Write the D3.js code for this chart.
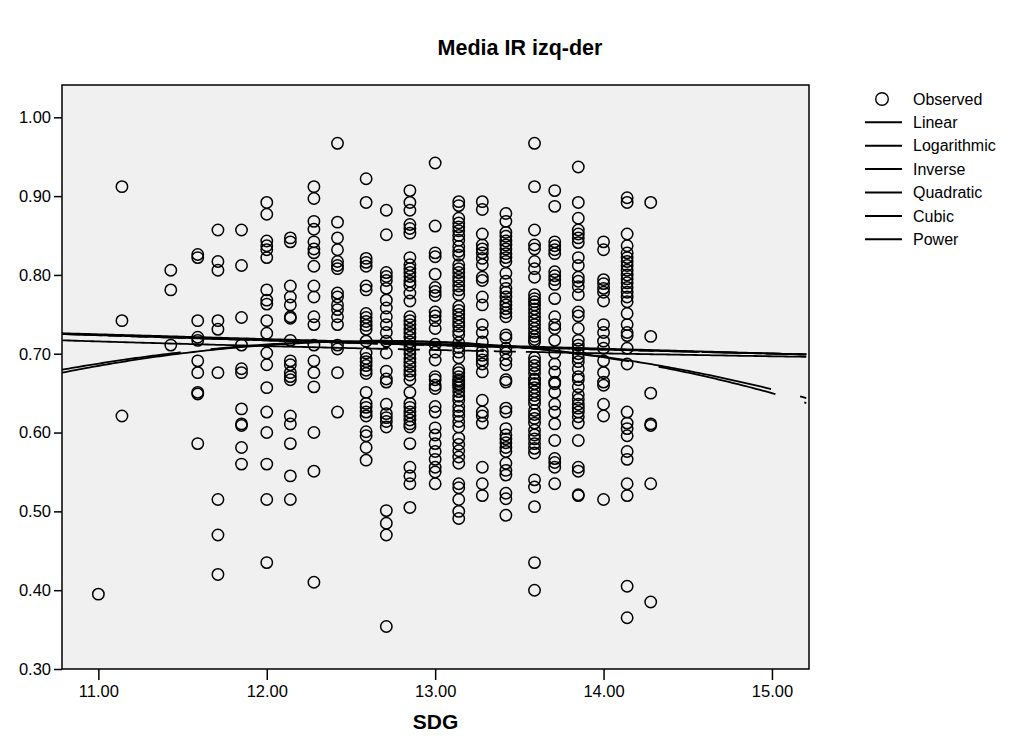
<!DOCTYPE html>
<html><head><meta charset="utf-8">
<script src="https://cdn.jsdelivr.net/npm/d3@7"></script>
<style>body{margin:0;background:#fff}svg{display:block}text{font-family:"Liberation Sans",Arial,sans-serif;fill:#000}</style>
</head><body>
<svg id="chart" width="1015" height="736"></svg>
<script>
// ---- Data (SDG value -> observed "Media IR izq-der" values) ----
const sdgColumns = [11.00, 11.14, 11.43, 11.59, 11.71, 11.85, 12.00, 12.14, 12.28, 12.42, 12.59, 12.71, 12.85, 13.00, 13.14, 13.28, 13.42, 13.59, 13.71, 13.85, 14.00, 14.14, 14.28];
const c1100 = [0.395];
const c1114 = [0.912, 0.742, 0.621];
const c1143 = [0.806, 0.781, 0.711];
const c1159 = [0.826, 0.822, 0.742, 0.721, 0.717, 0.691, 0.676, 0.651, 0.649, 0.586];
const c1171 = [0.857, 0.817, 0.806, 0.742, 0.731, 0.676, 0.515, 0.470, 0.420];
const c1185 = [0.857, 0.812, 0.746, 0.711, 0.681, 0.676, 0.630, 0.611, 0.609, 0.581, 0.560];
const c1200 = [0.892, 0.877, 0.843, 0.837, 0.832, 0.822, 0.781, 0.768, 0.763, 0.742, 0.726, 0.701, 0.686, 0.657, 0.626, 0.600, 0.560, 0.515, 0.435];
const c1214 = [0.847, 0.842, 0.786, 0.772, 0.762, 0.747, 0.745, 0.717, 0.691, 0.686, 0.676, 0.671, 0.667, 0.621, 0.611, 0.586, 0.545, 0.515];
const c1228 = [0.912, 0.897, 0.868, 0.858, 0.842, 0.833, 0.828, 0.811, 0.786, 0.772, 0.747, 0.737, 0.711, 0.691, 0.676, 0.658, 0.600, 0.551, 0.410];
const c1242 = [0.967, 0.867, 0.847, 0.832, 0.817, 0.812, 0.808, 0.777, 0.772, 0.762, 0.756, 0.747, 0.737, 0.711, 0.706, 0.676, 0.626];
const c1259 = [0.922, 0.892, 0.821, 0.816, 0.811, 0.786, 0.781, 0.751, 0.746, 0.741, 0.736, 0.731, 0.716, 0.701, 0.694, 0.690, 0.685, 0.679, 0.675, 0.651, 0.637, 0.632, 0.626, 0.621, 0.601, 0.596, 0.581, 0.565];
const c1271 = [0.882, 0.851, 0.803, 0.798, 0.793, 0.783, 0.768, 0.758, 0.747, 0.737, 0.727, 0.716, 0.701, 0.678, 0.668, 0.664, 0.636, 0.624, 0.619, 0.614, 0.607, 0.501, 0.485, 0.470, 0.354];
const c1285 = [0.907, 0.892, 0.882, 0.864, 0.859, 0.853, 0.822, 0.813, 0.808, 0.803, 0.798, 0.792, 0.787, 0.777, 0.767, 0.747, 0.742, 0.737, 0.731, 0.726, 0.721, 0.715, 0.710, 0.705, 0.700, 0.694, 0.689, 0.684, 0.678, 0.673, 0.667, 0.651, 0.637, 0.632, 0.626, 0.621, 0.616, 0.611, 0.607, 0.586, 0.556, 0.545, 0.535, 0.505];
const c1300 = [0.942, 0.862, 0.828, 0.823, 0.801, 0.784, 0.779, 0.774, 0.753, 0.748, 0.742, 0.732, 0.712, 0.702, 0.692, 0.671, 0.660, 0.667, 0.656, 0.633, 0.626, 0.606, 0.597, 0.586, 0.576, 0.566, 0.556, 0.550, 0.535];
const c1314 = [0.893, 0.888, 0.872, 0.866, 0.861, 0.856, 0.850, 0.844, 0.836, 0.830, 0.825, 0.813, 0.808, 0.803, 0.797, 0.792, 0.786, 0.781, 0.775, 0.760, 0.755, 0.750, 0.745, 0.740, 0.735, 0.729, 0.724, 0.714, 0.708, 0.702, 0.695, 0.680, 0.676, 0.671, 0.665, 0.660, 0.667, 0.662, 0.657, 0.652, 0.646, 0.641, 0.633, 0.627, 0.621, 0.614, 0.607, 0.593, 0.585, 0.577, 0.569, 0.561, 0.535, 0.530, 0.515, 0.500, 0.491];
const c1328 = [0.893, 0.883, 0.852, 0.838, 0.833, 0.828, 0.821, 0.813, 0.797, 0.793, 0.772, 0.762, 0.737, 0.727, 0.715, 0.703, 0.698, 0.692, 0.687, 0.677, 0.641, 0.626, 0.621, 0.612, 0.556, 0.535, 0.520];
const c1342 = [0.878, 0.868, 0.854, 0.849, 0.843, 0.838, 0.833, 0.827, 0.822, 0.817, 0.802, 0.792, 0.783, 0.778, 0.772, 0.766, 0.762, 0.757, 0.752, 0.747, 0.724, 0.720, 0.707, 0.701, 0.692, 0.686, 0.667, 0.664, 0.631, 0.626, 0.605, 0.597, 0.592, 0.587, 0.581, 0.576, 0.561, 0.552, 0.546, 0.523, 0.516, 0.495];
const c1359 = [0.967, 0.912, 0.857, 0.838, 0.833, 0.817, 0.808, 0.797, 0.775, 0.770, 0.766, 0.762, 0.757, 0.752, 0.747, 0.742, 0.737, 0.732, 0.727, 0.722, 0.718, 0.715, 0.695, 0.690, 0.685, 0.680, 0.675, 0.668, 0.662, 0.667, 0.662, 0.657, 0.652, 0.647, 0.642, 0.637, 0.628, 0.623, 0.618, 0.612, 0.603, 0.597, 0.592, 0.586, 0.580, 0.574, 0.540, 0.531, 0.506, 0.435, 0.400];
const c1371 = [0.907, 0.887, 0.842, 0.837, 0.832, 0.827, 0.804, 0.799, 0.794, 0.788, 0.770, 0.747, 0.737, 0.732, 0.717, 0.701, 0.687, 0.677, 0.664, 0.662, 0.651, 0.636, 0.626, 0.611, 0.590, 0.567, 0.562, 0.556, 0.535];
const c1385 = [0.937, 0.892, 0.872, 0.857, 0.852, 0.847, 0.841, 0.822, 0.812, 0.797, 0.792, 0.785, 0.775, 0.753, 0.748, 0.732, 0.717, 0.711, 0.706, 0.700, 0.695, 0.690, 0.681, 0.671, 0.667, 0.658, 0.648, 0.642, 0.636, 0.631, 0.626, 0.620, 0.612, 0.590, 0.556, 0.551, 0.520, 0.521];
const c1400 = [0.842, 0.832, 0.794, 0.789, 0.783, 0.778, 0.767, 0.737, 0.727, 0.716, 0.707, 0.691, 0.676, 0.664, 0.660, 0.636, 0.621, 0.515];
const c1414 = [0.898, 0.892, 0.852, 0.837, 0.828, 0.822, 0.817, 0.812, 0.806, 0.800, 0.795, 0.790, 0.784, 0.778, 0.772, 0.766, 0.751, 0.737, 0.727, 0.723, 0.707, 0.687, 0.626, 0.612, 0.605, 0.596, 0.576, 0.566, 0.535, 0.520, 0.405, 0.365];
const c1428 = [0.892, 0.722, 0.650, 0.611, 0.609, 0.535, 0.385];
const columnValues = [c1100, c1114, c1143, c1159, c1171, c1185, c1200, c1214, c1228, c1242, c1259, c1271, c1285, c1300, c1314, c1328, c1342, c1359, c1371, c1385, c1400, c1414, c1428];

const xTicks = [11, 12, 13, 14, 15];
const yTicks = [0.30, 0.40, 0.50, 0.60, 0.70, 0.80, 0.90, 1.00];
const legendLabels = ["Linear", "Logarithmic", "Inverse", "Quadratic", "Cubic", "Power"];

// fitted model coefficients
const linearCoef = [0.7917, -0.00609];          // a + b x
const logCoef = [0.9043, -0.0754];              // a + b ln x
const inverseCoef = [0.645, 0.777];             // a + b / x
const quadCoef = [0.716, 0.01125, 12.67];       // top - k (x-h)^2
const cubicCoef = [0.7165, 0.0112, 12.66, -0.0004]; // top - k (x-h)^2 + m (x-h)^3
const powerCoef = [0.933, -0.106];              // a x^b

// ---- Drawing ----
const svg = d3.select("#chart");
const L = 62, R = 809, T = 85, B = 669;
const x = d3.scaleLinear().domain([10.784, 15.22]).range([L, R]);
const y = d3.scaleLinear().domain([0.3, 1.041]).range([B, T]);

svg.append("text").attr("x", 520).attr("y", 55).attr("text-anchor", "middle")
  .style("font-weight", "bold").style("font-size", "21.5px").text("Media IR izq-der");

svg.append("rect").attr("x", L).attr("y", T).attr("width", R - L).attr("height", B - T)
  .attr("fill", "#f0f0f0");

svg.append("clipPath").attr("id", "clip").append("rect")
  .attr("x", L).attr("y", T).attr("width", R - L).attr("height", B - T);

const pts = [];
sdgColumns.forEach((s, i) => columnValues[i].forEach(v => pts.push([s, v])));
svg.append("g").selectAll("circle").data(pts).join("circle")
  .attr("cx", d => x(d[0])).attr("cy", d => y(d[1])).attr("r", 5.7)
  .attr("fill", "none").attr("stroke", "#000").attr("stroke-width", 1.5);

const models = [
  {f: s => linearCoef[0] + linearCoef[1] * s, dash: null},
  {f: s => logCoef[0] + logCoef[1] * Math.log(s), dash: "60,4"},
  {f: s => inverseCoef[0] + inverseCoef[1] / s, dash: "300,4,22,10,22,10,22,10,22,10,22,10"},
  {f: s => quadCoef[0] - quadCoef[1] * (s - quadCoef[2]) ** 2, dash: "715,30,200"},
  {f: s => cubicCoef[0] - cubicCoef[1] * (s - cubicCoef[2]) ** 2 + cubicCoef[3] * (s - cubicCoef[2]) ** 3, dash: "120,30"},
  {f: s => powerCoef[0] * Math.pow(s, powerCoef[1]), dash: "40,6"}
];
const xs = d3.range(10.784, 15.2201, 0.02);
const line = d3.line().x(d => x(d[0])).y(d => y(d[1]));
const lg = svg.append("g").attr("clip-path", "url(#clip)");
models.forEach(m => {
  lg.append("path").attr("d", line(xs.map(s => [s, m.f(s)])))
    .attr("fill", "none").attr("stroke", "#000").attr("stroke-width", 1.8)
    .attr("stroke-dasharray", m.dash);
});

svg.append("rect").attr("x", L).attr("y", T).attr("width", R - L).attr("height", B - T)
  .attr("fill", "none").attr("stroke", "#000").attr("stroke-width", 1.5);

const yAxis = svg.append("g").attr("transform", `translate(${L},0)`)
  .call(d3.axisLeft(y).tickValues(yTicks).tickFormat(d3.format(".2f")).tickSize(8).tickPadding(3));
const xAxis = svg.append("g").attr("transform", `translate(0,${B})`)
  .call(d3.axisBottom(x).tickValues(xTicks).tickFormat(d3.format(".2f")).tickSize(11).tickPadding(5));
[yAxis, xAxis].forEach(a => {
  a.select(".domain").remove();
  a.selectAll("line").attr("stroke", "#000").attr("stroke-width", 1.5);
  a.selectAll("text").style("font-size", "16.5px").attr("fill", "#000");
});

svg.append("text").attr("x", (L + R) / 2).attr("y", 729).attr("text-anchor", "middle")
  .style("font-weight", "bold").style("font-size", "21px").text("SDG");

const leg = svg.append("g");
leg.append("circle").attr("cx", 882).attr("cy", 99).attr("r", 6.3)
  .attr("fill", "none").attr("stroke", "#000").attr("stroke-width", 1.4);
leg.append("text").attr("x", 913).attr("y", 99).attr("dy", "0.35em").style("font-size", "16px").text("Observed");
legendLabels.forEach((t, i) => {
  const yy = 122.3 + i * 23.4;
  leg.append("line").attr("x1", 865).attr("x2", 902).attr("y1", yy).attr("y2", yy)
    .attr("stroke", "#000").attr("stroke-width", 2);
  leg.append("text").attr("x", 913).attr("y", yy).attr("dy", "0.35em").style("font-size", "16px").text(t);
});
</script>
</body></html>
